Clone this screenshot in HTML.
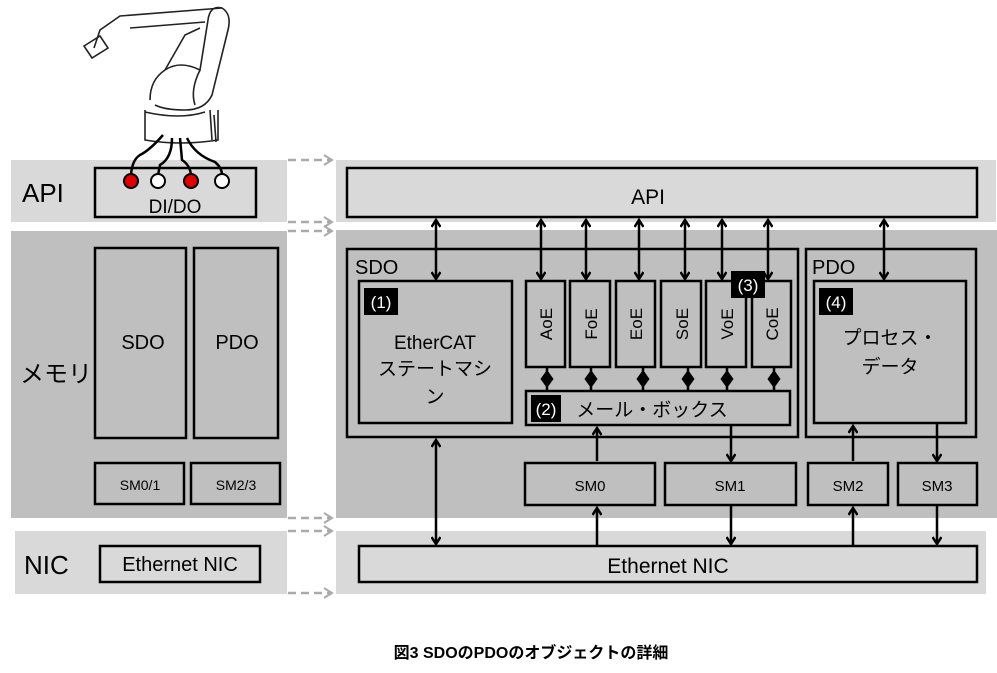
<!DOCTYPE html>
<html><head><meta charset="utf-8"><style>
html,body{margin:0;padding:0;background:#fff;}
svg{display:block;}
text{font-family:"Liberation Sans","Noto Sans CJK JP",sans-serif;fill:#000;}
</style></head><body>
<svg width="997" height="673" viewBox="0 0 997 673" xmlns="http://www.w3.org/2000/svg">
<defs>
<marker id="a" markerWidth="10" markerHeight="10" refX="8" refY="5" orient="auto-start-reverse" markerUnits="userSpaceOnUse">
<polyline points="1,0.5 8,5 1,9.5" fill="none" stroke="#000" stroke-width="2.5"/></marker>
<marker id="g" markerWidth="12" markerHeight="12" refX="10" refY="6" orient="auto" markerUnits="userSpaceOnUse">
<polyline points="2,1 10,6 2,11" fill="none" stroke="#aaa" stroke-width="2"/></marker>
</defs>
<rect x="11" y="160" width="276" height="62" fill="#d9d9d9"/>
<rect x="11" y="231" width="276" height="287" fill="#bfbfbf"/>
<rect x="15" y="531" width="272" height="63" fill="#d9d9d9"/>
<rect x="336" y="160" width="660" height="62" fill="#d9d9d9"/>
<rect x="336" y="230" width="661" height="288" fill="#bfbfbf"/>
<rect x="336" y="531" width="650" height="63" fill="#d9d9d9"/>
<g stroke="#aaa" stroke-width="2.5" fill="none">
<line x1="288" y1="160" x2="332" y2="160" stroke-dasharray="8,5" marker-end="url(#g)"/>
<line x1="288" y1="222" x2="332" y2="222" stroke-dasharray="8,5" marker-end="url(#g)"/>
<line x1="288" y1="231" x2="332" y2="231" stroke-dasharray="8,5" marker-end="url(#g)"/>
<line x1="288" y1="518" x2="332" y2="518" stroke-dasharray="8,5" marker-end="url(#g)"/>
<line x1="288" y1="531" x2="332" y2="531" stroke-dasharray="8,5" marker-end="url(#g)"/>
<line x1="288" y1="593" x2="332" y2="593" stroke-dasharray="8,5" marker-end="url(#g)"/>
</g>
<text x="22" y="202" font-size="26">API</text>
<text x="20" y="382" font-size="24">メモリ</text>
<text x="24" y="574" font-size="26">NIC</text>
<g fill="none" stroke="#000" stroke-width="2.5">
<rect x="95" y="168" width="161" height="49" fill="#d9d9d9"/>
<rect x="95" y="248" width="91" height="190"/>
<rect x="194" y="248" width="84" height="190"/>
<rect x="95" y="463" width="89" height="41"/>
<rect x="191" y="463" width="89" height="41"/>
<rect x="100" y="546" width="160" height="36" fill="#d9d9d9"/>
</g>
<text x="175" y="213" font-size="19" text-anchor="middle">DI/DO</text>
<text x="143" y="349" font-size="20" text-anchor="middle">SDO</text>
<text x="237" y="349" font-size="20" text-anchor="middle">PDO</text>
<text x="140" y="490" font-size="14" text-anchor="middle">SM0/1</text>
<text x="236" y="490" font-size="14" text-anchor="middle">SM2/3</text>
<text x="180" y="571" font-size="20" text-anchor="middle">Ethernet NIC</text>
<g fill="none" stroke="#222" stroke-width="1.6">
<path d="M145 110 L145 140 Q180 146 218 140 L218 110"/>
<path d="M145 112 Q180 120 205 112"/>
<path d="M150 100 Q150 80 165 70 Q180 60 200 70 L208 20 Q210 5 222 8 Q232 14 228 30 L212 95 Q205 110 185 110 Q165 110 155 105"/>
<path d="M200 70 Q190 90 195 105"/>
<path d="M165 70 L185 35 L200 28"/>
<path d="M222 8 L120 16 L100 30 L94 48"/>
<path d="M130 28 L205 22"/>
<path d="M84 46 L100 36 L108 48 L92 58 Z"/>
<path d="M210 110 L212 140 M214 115 L216 142"/>
</g>
<g fill="none" stroke="#000" stroke-width="2.5">
<path d="M163 135 Q150 150 140 155 Q132 160 131 175"/>
<path d="M172 138 Q172 158 160 165 L158 175"/>
<path d="M180 138 L182 160 Q190 165 191 175"/>
<path d="M187 138 Q195 155 215 162 Q222 168 222 175"/>
</g>
<g stroke="#000" stroke-width="2">
<circle cx="131" cy="181" r="7" fill="#e00000"/>
<circle cx="158" cy="181" r="7" fill="#fff"/>
<circle cx="191" cy="181" r="7" fill="#e00000"/>
<circle cx="222" cy="181" r="7" fill="#fff"/>
</g>
<g fill="none" stroke="#000" stroke-width="2.5">
<rect x="347" y="168" width="630" height="49" fill="#d9d9d9"/>
<rect x="347" y="249" width="451" height="188"/>
<rect x="359" y="281" width="153" height="142"/>
<rect x="526" y="281" width="39" height="86"/>
<rect x="570" y="281" width="40" height="86"/>
<rect x="616" y="281" width="39" height="86"/>
<rect x="661" y="281" width="40" height="86"/>
<rect x="706" y="281" width="40" height="86"/>
<rect x="752" y="281" width="39" height="86"/>
<rect x="526" y="391" width="264" height="34"/>
<rect x="525" y="463" width="130" height="42"/>
<rect x="665" y="463" width="131" height="42"/>
<rect x="806" y="249" width="170" height="188"/>
<rect x="814" y="281" width="152" height="142"/>
<rect x="808" y="463" width="80" height="42"/>
<rect x="898" y="463" width="79" height="42"/>
<rect x="359" y="546" width="618" height="36" fill="#d9d9d9"/>
</g>
<text x="648" y="204" font-size="21" text-anchor="middle">API</text>
<text x="355" y="274" font-size="20">SDO</text>
<text x="812" y="274" font-size="20">PDO</text>
<rect x="364" y="288" width="34" height="27" fill="#000"/>
<text x="381" y="308" font-size="17" text-anchor="middle" style="fill:#fff">(1)</text>
<text x="435" y="349" font-size="19" text-anchor="middle">EtherCAT</text>
<text x="435" y="375" font-size="19" text-anchor="middle">ステートマシ</text>
<text x="435" y="403" font-size="19" text-anchor="middle">ン</text>
<g font-size="17">
<text transform="translate(552,324) rotate(-90)" text-anchor="middle">AoE</text>
<text transform="translate(597,324) rotate(-90)" text-anchor="middle">FoE</text>
<text transform="translate(642,324) rotate(-90)" text-anchor="middle">EoE</text>
<text transform="translate(688,324) rotate(-90)" text-anchor="middle">SoE</text>
<text transform="translate(733,324) rotate(-90)" text-anchor="middle">VoE</text>
<text transform="translate(778,324) rotate(-90)" text-anchor="middle">CoE</text>
</g>
<rect x="731" y="271" width="34" height="27" fill="#000"/>
<text x="748" y="291" font-size="17" text-anchor="middle" style="fill:#fff">(3)</text>
<rect x="531" y="395" width="30" height="27" fill="#000"/>
<text x="546" y="415" font-size="17" text-anchor="middle" style="fill:#fff">(2)</text>
<text x="652" y="416" font-size="19" text-anchor="middle">メール・ボックス</text>
<rect x="819" y="288" width="34" height="27" fill="#000"/>
<text x="836" y="308" font-size="17" text-anchor="middle" style="fill:#fff">(4)</text>
<text x="890" y="344" font-size="19" text-anchor="middle">プロセス・</text>
<text x="890" y="373" font-size="19" text-anchor="middle">データ</text>
<text x="590" y="491" font-size="15" text-anchor="middle">SM0</text>
<text x="730" y="491" font-size="15" text-anchor="middle">SM1</text>
<text x="848" y="491" font-size="15" text-anchor="middle">SM2</text>
<text x="937" y="491" font-size="15" text-anchor="middle">SM3</text>
<text x="668" y="573" font-size="21" text-anchor="middle">Ethernet NIC</text>
<g stroke="#000" stroke-width="2.5" fill="none">
<line x1="436" y1="220" x2="436" y2="279" marker-start="url(#a)" marker-end="url(#a)"/>
<line x1="541" y1="220" x2="541" y2="279" marker-start="url(#a)" marker-end="url(#a)"/>
<line x1="586" y1="220" x2="586" y2="279" marker-start="url(#a)" marker-end="url(#a)"/>
<line x1="639" y1="220" x2="639" y2="279" marker-start="url(#a)" marker-end="url(#a)"/>
<line x1="685" y1="220" x2="685" y2="279" marker-start="url(#a)" marker-end="url(#a)"/>
<line x1="722" y1="220" x2="722" y2="279" marker-start="url(#a)" marker-end="url(#a)"/>
<line x1="768" y1="220" x2="768" y2="279" marker-start="url(#a)" marker-end="url(#a)"/>
<line x1="884" y1="220" x2="884" y2="279" marker-start="url(#a)" marker-end="url(#a)"/>
<line x1="436" y1="440" x2="436" y2="544" marker-start="url(#a)" marker-end="url(#a)"/>
<line x1="597" y1="461" x2="597" y2="428" marker-end="url(#a)"/>
<line x1="731" y1="425" x2="731" y2="461" marker-end="url(#a)"/>
<line x1="597" y1="546" x2="597" y2="508" marker-end="url(#a)"/>
<line x1="731" y1="505" x2="731" y2="544" marker-end="url(#a)"/>
<line x1="853" y1="461" x2="853" y2="426" marker-end="url(#a)"/>
<line x1="853" y1="546" x2="853" y2="508" marker-end="url(#a)"/>
<line x1="937" y1="423" x2="937" y2="461" marker-end="url(#a)"/>
<line x1="937" y1="505" x2="937" y2="544" marker-end="url(#a)"/>
</g>
<g stroke="#000" stroke-width="2.5" fill="#000">
<path d="M547 367 L547 372 M547 386 L547 391 M547 372 L552 379 L547 386 L542 379 Z"/>
<path d="M591 367 L591 372 M591 386 L591 391 M591 372 L596 379 L591 386 L586 379 Z"/>
<path d="M643 367 L643 372 M643 386 L643 391 M643 372 L648 379 L643 386 L638 379 Z"/>
<path d="M688 367 L688 372 M688 386 L688 391 M688 372 L693 379 L688 386 L683 379 Z"/>
<path d="M727 367 L727 372 M727 386 L727 391 M727 372 L732 379 L727 386 L722 379 Z"/>
<path d="M774 367 L774 372 M774 386 L774 391 M774 372 L779 379 L774 386 L769 379 Z"/>
</g>
<text x="531" y="658" font-size="16" font-weight="bold" text-anchor="middle">図3  SDOのPDOのオブジェクトの詳細</text>
</svg>
</body></html>
